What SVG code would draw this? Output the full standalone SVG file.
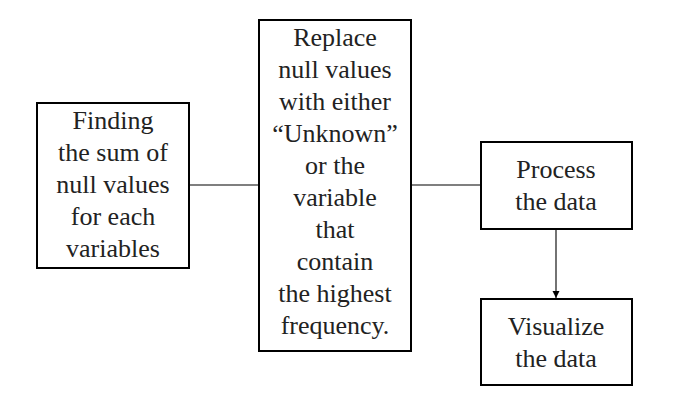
<svg xmlns="http://www.w3.org/2000/svg" width="677" height="408" viewBox="0 0 677 408">
<style>
.box{fill:#fff;stroke:#000;stroke-width:2}
.t{font-family:'Liberation Serif','Times New Roman',Times,'DejaVu Serif',serif;font-size:26px;fill:#222;text-anchor:middle}
.c{stroke:#000;stroke-width:1.1;fill:none}
</style>
<defs>
<marker id="ah" markerWidth="8" markerHeight="8" refX="7" refY="4" orient="auto" markerUnits="userSpaceOnUse">
<path d="M0,0.5 L7,4 L0,7.5 Z" fill="#000"/>
</marker>
</defs>
<rect width="677" height="408" fill="#fff"/>
<g id="connectors">
<line class="c" x1="189" y1="185" x2="259" y2="185"/>
<line class="c" x1="411" y1="185" x2="481" y2="185"/>
<line class="c" x1="556" y1="229" x2="556" y2="298" marker-end="url(#ah)"/>
</g>
<g id="n1" font-family="Liberation Serif, DejaVu Serif, serif">
<rect class="box" x="37" y="103" width="152" height="165"/>
<text class="t" x="113" y="129">Finding</text>
<text class="t" x="113" y="161">the sum of</text>
<text class="t" x="113" y="193">null values</text>
<text class="t" x="113" y="225">for each</text>
<text class="t" x="113" y="257">variables</text>
</g>
<g id="n2">
<rect class="box" x="259" y="20" width="152" height="331"/>
<text class="t" x="335" y="46">Replace</text>
<text class="t" x="335" y="78">null values</text>
<text class="t" x="335" y="110">with either</text>
<text class="t" x="335" y="142">“Unknown”</text>
<text class="t" x="335" y="174">or the</text>
<text class="t" x="335" y="206">variable</text>
<text class="t" x="335" y="238">that</text>
<text class="t" x="335" y="270">contain</text>
<text class="t" x="335" y="302">the highest</text>
<text class="t" x="335" y="334">frequency.</text>
</g>
<g id="n3">
<rect class="box" x="481" y="142" width="151" height="87"/>
<text class="t" x="556" y="178">Process</text>
<text class="t" x="556" y="210">the data</text>
</g>
<g id="n4">
<rect class="box" x="481" y="299" width="151" height="86"/>
<text class="t" x="556" y="335">Visualize</text>
<text class="t" x="556" y="367">the data</text>
</g>
</svg>
